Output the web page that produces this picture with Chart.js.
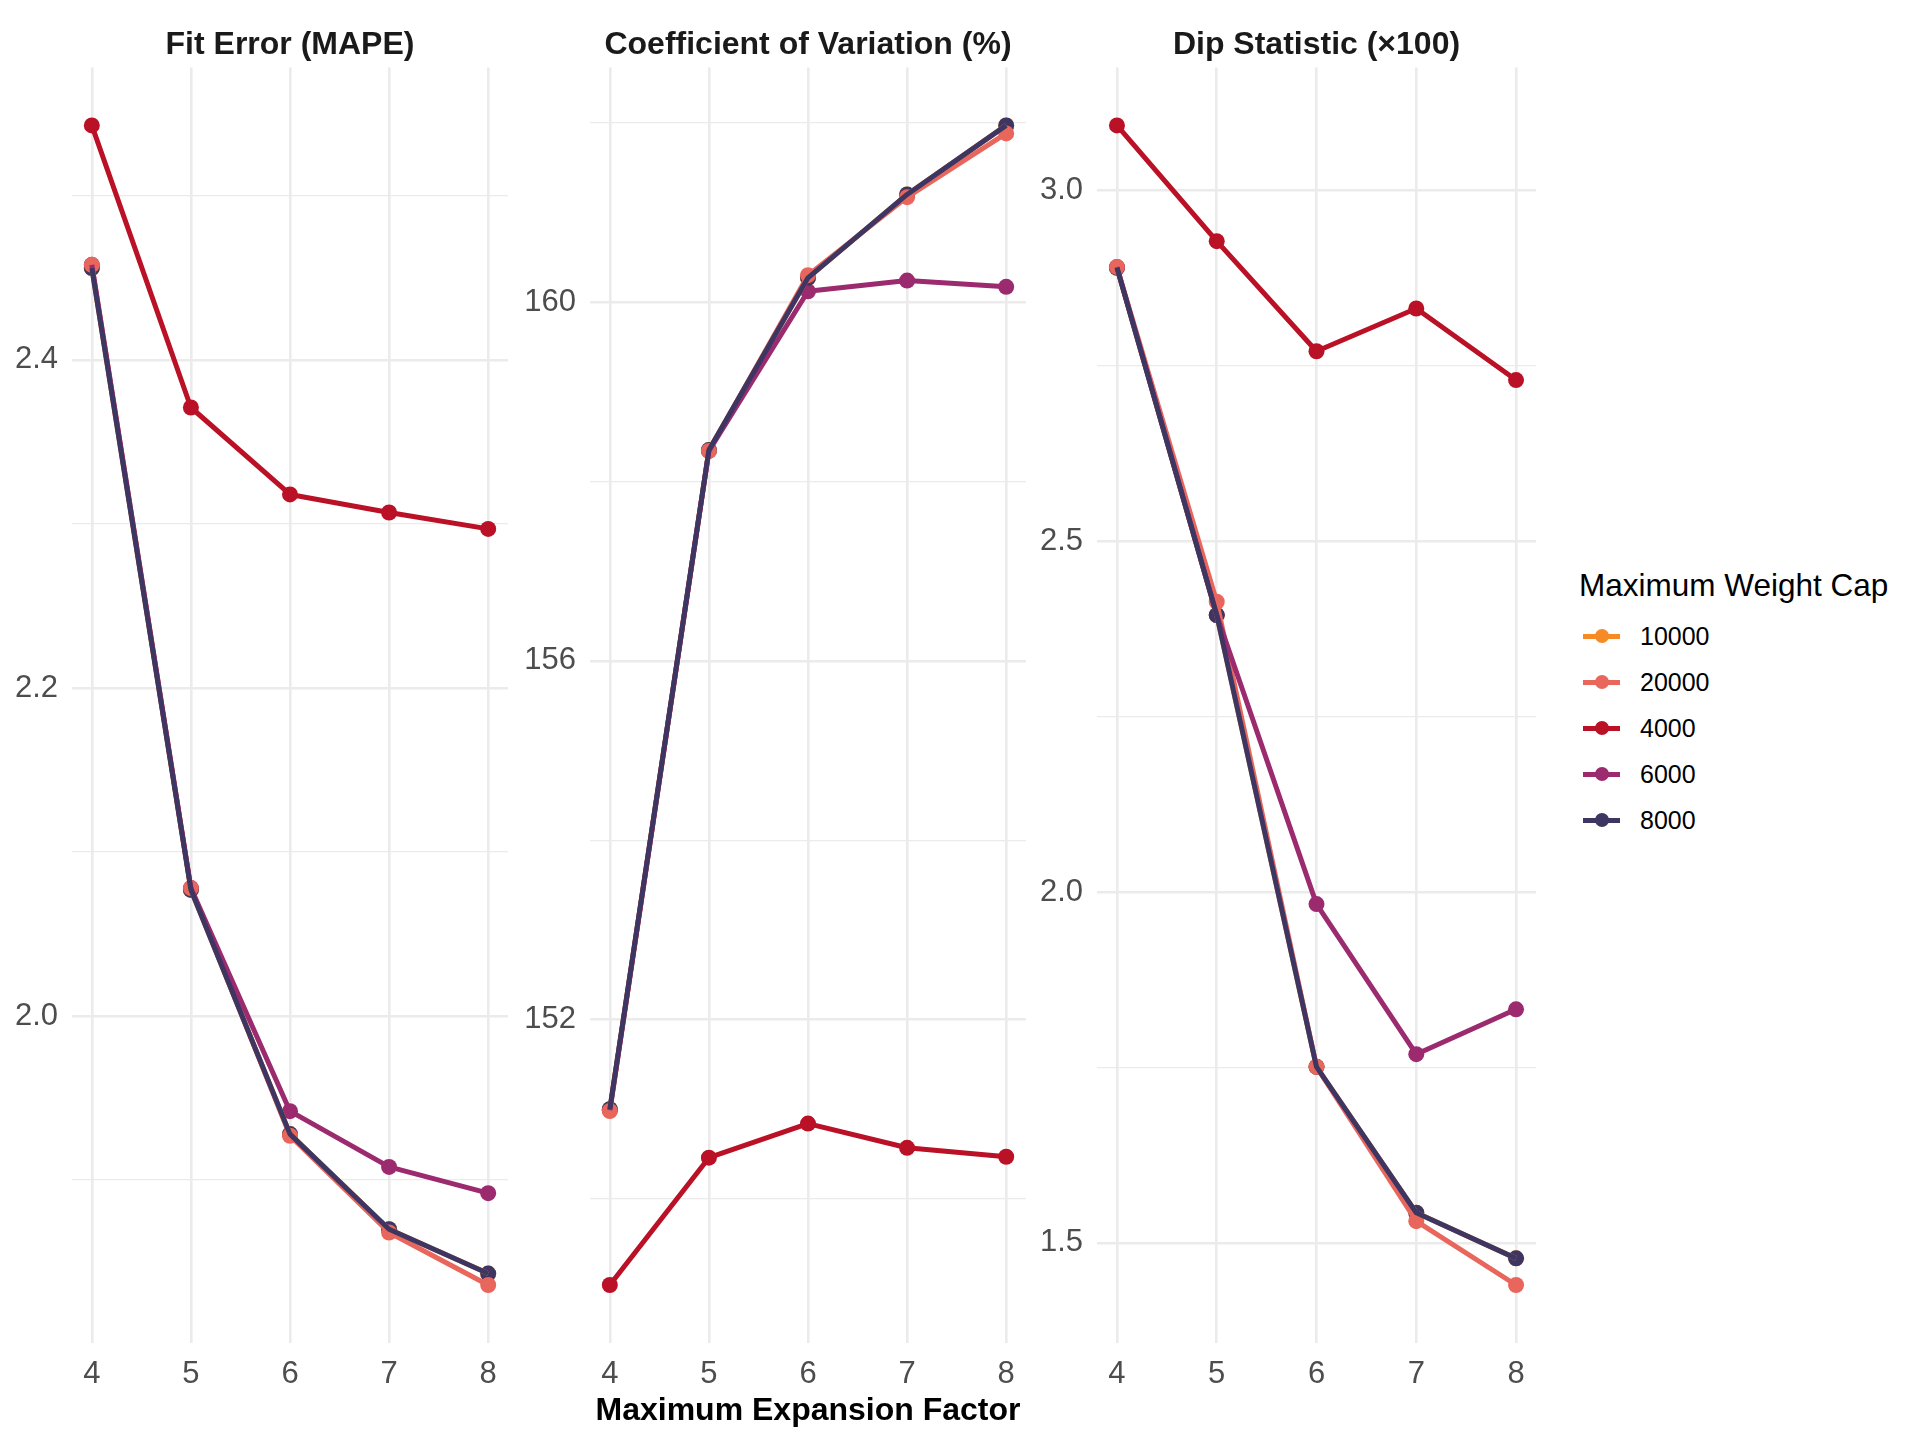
<!DOCTYPE html>
<html>
<head>
<meta charset="utf-8">
<script src="https://cdn.jsdelivr.net/npm/chart.js@4.4.1/dist/chart.umd.min.js"></script>
<style>
  body { margin: 0; background: #fff; width: 1920px; height: 1440px; position: relative; overflow: hidden;
         font-family: 'Liberation Sans', Arial, sans-serif; }
  canvas { position: absolute; top: 0; }
  #legend { position: absolute; left: 1579px; top: 567px; width: 340px; height: 300px; }
  #legend .ttl { font-size: 31.5px; line-height: 36px; color: #000; white-space: nowrap; }
  #legend .row { position: absolute; left: 0; height: 46px; width: 300px; }
  #legend .line { position: absolute; left: 4px; top: 20.5px; width: 37px; height: 5px; }
  #legend .dot { position: absolute; left: 15.5px; top: 16px; width: 14px; height: 14px; border-radius: 50%; }
  #legend .lab { position: absolute; left: 61px; top: 0; line-height: 46px; font-size: 25px; color: #000; }
</style>
</head>
<body>
<canvas id="p1"></canvas>
<canvas id="p2"></canvas>
<canvas id="p3"></canvas>
<div id="legend"></div>
<script>
// x values and groups
var expansionFactor = [4, 5, 6, 7, 8];
var weightCaps = ['10000', '20000', '4000', '6000', '8000'];

// Fit Error (MAPE)
var mape10000 = [2.456, 2.077, 1.928, 1.870, 1.843];
var mape20000 = [2.458, 2.078, 1.927, 1.868, 1.836];
var mape4000  = [2.543, 2.371, 2.318, 2.307, 2.297];
var mape6000  = [2.458, 2.078, 1.942, 1.908, 1.892];
var mape8000  = [2.456, 2.077, 1.928, 1.870, 1.843];

// Coefficient of Variation (%)
var cv10000 = [151.00, 158.35, 160.27, 161.20, 161.97];
var cv20000 = [150.98, 158.34, 160.30, 161.17, 161.88];
var cv4000  = [149.04, 150.46, 150.84, 150.57, 150.47];
var cv6000  = [150.99, 158.34, 160.12, 160.24, 160.17];
var cv8000  = [151.00, 158.35, 160.27, 161.20, 161.97];

// Dip Statistic (x100)
var dip10000 = [2.890, 2.395, 1.751, 1.543, 1.478];
var dip20000 = [2.891, 2.414, 1.751, 1.531, 1.440];
var dip4000  = [3.093, 2.928, 2.771, 2.832, 2.730];
var dip6000  = [2.891, 2.395, 1.983, 1.769, 1.833];
var dip8000  = [2.890, 2.395, 1.751, 1.543, 1.478];

// y ticks
var mapeMajor = [2.0, 2.2, 2.4];
var mapeLabels = ['2.0', '2.2', '2.4'];
var mapeMinor = [1.9, 2.1, 2.3, 2.5];
var cvMajor = [152, 156, 160];
var cvLabels = ['152', '156', '160'];
var cvMinor = [150, 154, 158, 162];
var dipMajor = [1.5, 2.0, 2.5, 3.0];
var dipLabels = ['1.5', '2.0', '2.5', '3.0'];
var dipMinor = [1.75, 2.25, 2.75];

var capColors = ['#F68B26', '#E8665C', '#BA1127', '#9B2A6E', '#3E3662'];
var FONT = "'Liberation Sans', Arial, sans-serif";

var panels = [
    { id: 'p1', title: 'Fit Error (MAPE)', series: [mape10000, mape20000, mape4000, mape6000, mape8000],
      majors: mapeMajor, labels: mapeLabels, minors: mapeMinor, left: 0, width: 516, axisW: 72 },
    { id: 'p2', title: 'Coefficient of Variation (%)', series: [cv10000, cv20000, cv4000, cv6000, cv8000],
      majors: cvMajor, labels: cvLabels, minors: cvMinor, left: 520, width: 514, axisW: 70,
      xTitle: 'Maximum Expansion Factor' },
    { id: 'p3', title: 'Dip Statistic (\u00d7100)', series: [dip10000, dip20000, dip4000, dip6000, dip8000],
      majors: dipMajor, labels: dipLabels, minors: dipMinor, left: 1040, width: 504, axisW: 57 }
];

// draw order, bottom to top
var pointOrder = [0, 2, 3, 4, 1];
var lineOrder = [0, 1, 2, 3, 4];

function toXY(vals) {
    return vals.map(function (v, i) { return { x: expansionFactor[i], y: v }; });
}

function buildDatasets(series) {
    var layers = [];
    pointOrder.forEach(function (i) {
        layers.push({
            label: weightCaps[i], data: toXY(series[i]), showLine: false,
            pointRadius: 8, pointHoverRadius: 8, pointBorderWidth: 0,
            pointBackgroundColor: capColors[i], pointBorderColor: capColors[i]
        });
    });
    lineOrder.forEach(function (i) {
        layers.push({
            label: weightCaps[i], data: toXY(series[i]), showLine: true,
            pointRadius: 0, pointHoverRadius: 0, borderColor: capColors[i], borderWidth: 5,
            borderJoinStyle: 'round', fill: false
        });
    });
    layers.forEach(function (d, k) { d.order = layers.length - k; });
    return layers;
}

function makePanel(p) {
    var canvas = document.getElementById(p.id);
    canvas.width = p.width;
    canvas.height = 1440;
    canvas.style.left = p.left + 'px';

    var all = [].concat.apply([], p.series);
    var lo = Math.min.apply(null, all), hi = Math.max.apply(null, all);
    var pad = (hi - lo) * 0.05;
    var yTicks = p.majors.concat(p.minors).sort(function (a, b) { return a - b; });

    new Chart(canvas.getContext('2d'), {
        type: 'scatter',
        data: { datasets: buildDatasets(p.series) },
        options: {
            responsive: false,
            animation: false,
            devicePixelRatio: 1,
            layout: { padding: 0 },
            plugins: {
                legend: { display: false },
                tooltip: { enabled: false },
                title: {
                    display: true, text: p.title, fullSize: false, color: '#1A1A1A',
                    font: { family: FONT, size: 32, weight: 'bold' },
                    padding: { top: 26, bottom: 3 }
                }
            },
            scales: {
                x: {
                    type: 'linear', min: 3.8, max: 8.2,
                    afterBuildTicks: function (ax) {
                        ax.ticks = expansionFactor.map(function (v) { return { value: v }; });
                    },
                    afterFit: function (ax) { ax.height = 97; },
                    ticks: {
                        autoSkip: false, maxRotation: 0, padding: 13, color: '#4D4D4D',
                        font: { family: FONT, size: 31 },
                        callback: function (v) { return String(v); }
                    },
                    grid: { color: '#EBEBEB', lineWidth: 2.6, drawTicks: false },
                    border: { display: false },
                    title: {
                        display: !!p.xTitle, text: p.xTitle || '', color: '#000',
                        font: { family: FONT, size: 32, weight: 'bold' },
                        padding: { top: 0, bottom: 10 }
                    }
                },
                y: {
                    type: 'linear', min: lo - pad, max: hi + pad,
                    afterBuildTicks: function (ax) {
                        ax.ticks = yTicks.map(function (v) { return { value: v }; });
                    },
                    afterFit: function (ax) { ax.width = p.axisW; },
                    ticks: {
                        autoSkip: false, padding: 14, color: '#4D4D4D',
                        font: { family: FONT, size: 31 },
                        callback: function (v) {
                            var k = p.majors.indexOf(v);
                            return k < 0 ? '' : p.labels[k];
                        }
                    },
                    grid: {
                        color: '#EBEBEB', drawTicks: false,
                        lineWidth: function (c) {
                            return c.tick && p.majors.indexOf(c.tick.value) >= 0 ? 2.6 : 1.3;
                        }
                    },
                    border: { display: false }
                }
            }
        }
    });
}

panels.forEach(makePanel);

// legend
var legend = document.getElementById('legend');
var html = '<div class="ttl">Maximum Weight Cap</div>';
weightCaps.forEach(function (cap, i) {
    html += '<div class="row" style="top:' + (46 + 46 * i) + 'px">' +
        '<span class="line" style="background:' + capColors[i] + '"></span>' +
        '<span class="dot" style="background:' + capColors[i] + '"></span>' +
        '<span class="lab">' + cap + '</span></div>';
});
legend.innerHTML = html;
</script>
</body>
</html>
